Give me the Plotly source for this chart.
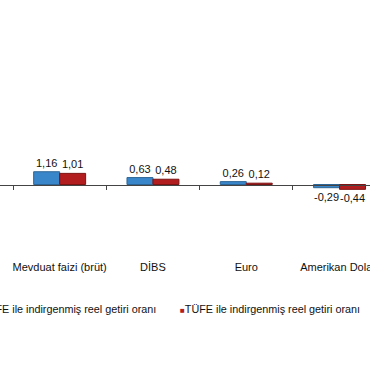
import plotly.graph_objects as go

categories = ["Mevduat faizi (brüt)", "DİBS", "Euro", "Amerikan Doları"]
yiufe_values = [1.16, 0.63, 0.26, -0.29]
tufe_values = [1.01, 0.48, 0.12, -0.44]
series_names = ["Yİ-ÜFE ile indirgenmiş reel getiri oranı",
                "TÜFE ile indirgenmiş reel getiri oranı"]

BLUE = "#3a86cb"
BLUE_EDGE = "#2d6596"
RED = "#b21d1f"
RED_EDGE = "#7d1414"

W, H = 370, 380
ZERO_PX = 184.5        # pixel row of the zero line
PX_PER_UNIT = 11.0

def fmt(v):
    return f"{v:.2f}".replace(".", ",")

fig = go.Figure()
for name, vals, col, edge in [(series_names[0], yiufe_values, BLUE, BLUE_EDGE),
                              (series_names[1], tufe_values, RED, RED_EDGE)]:
    fig.add_trace(go.Bar(
        x=categories, y=vals, name=name,
        marker=dict(color=col, line=dict(color=edge, width=1)),
        text=[fmt(v) for v in vals], textposition="outside",
        textfont=dict(family="Liberation Sans, Arial", size=11, color="#111"),
        cliponaxis=False, showlegend=False,
    ))

ymax = ZERO_PX / PX_PER_UNIT
ymin = -(H - ZERO_PX) / PX_PER_UNIT
x0 = -0.5 - 13 / 93.3
x1 = x0 + W / 93.3

fig.update_layout(
    width=W, height=H,
    margin=dict(l=0, r=0, t=0, b=0, pad=0),
    paper_bgcolor="white", plot_bgcolor="white",
    barmode="group", bargap=0.443, bargroupgap=0,
    font=dict(family="Liberation Sans, Arial", size=11, color="#111"),
    xaxis=dict(
        type="category", range=[x0, x1], automargin=False,
        anchor="free", position=(H - ZERO_PX) / H,
        showline=True, linecolor="#444", linewidth=1,
        ticks="outside", tickson="boundaries", ticklen=4, tickcolor="#444",
        ticklabelstandoff=72, tickangle=0,
        tickfont=dict(family="Liberation Sans, Arial", size=11, color="#111"),
        showgrid=False, zeroline=False,
    ),
    yaxis=dict(range=[ymin, ymax], showticklabels=False, showgrid=False,
               zeroline=False, showline=False, ticks="", automargin=False),
    showlegend=False,
)

leg_y = 1 - 309 / H
fig.add_annotation(
    x=158 / W, y=leg_y, xref="paper", yref="paper",
    xanchor="right", yanchor="middle", showarrow=False,
    text=f"<span style='color:{BLUE};font-size:8px'>■</span>{series_names[0]}",
    font=dict(family="Liberation Sans, Arial", size=10.8, color="#111"),
)
fig.add_annotation(
    x=178 / W, y=leg_y, xref="paper", yref="paper",
    xanchor="left", yanchor="middle", showarrow=False,
    text=f"<span style='color:{RED};font-size:8px'>■</span>{series_names[1]}",
    font=dict(family="Liberation Sans, Arial", size=10.8, color="#111"),
)

fig.write_html("out.html", config={"displayModeBar": False},
               post_script="document.body.style.margin='0';")
